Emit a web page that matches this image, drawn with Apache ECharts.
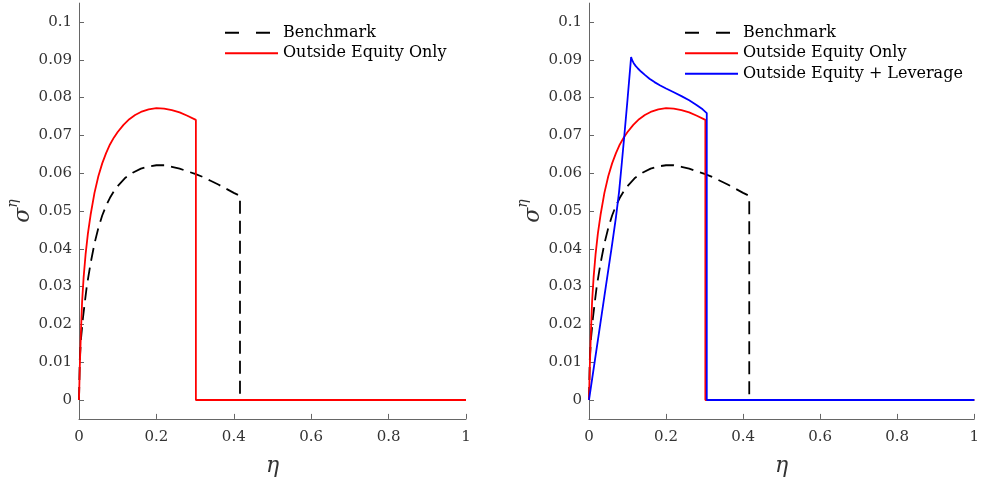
<!DOCTYPE html>
<html>
<head>
<meta charset="utf-8">
<script src="https://cdn.jsdelivr.net/npm/echarts@6/dist/echarts.min.js"></script>
<style>html,body{margin:0;padding:0;background:#fff;}#c{width:982px;height:483px;}</style>
</head>
<body>
<div id="c"></div>
<script>
// Benchmark (black dashed)
var benchEta   = [0, 0.002, 0.005, 0.010, 0.015, 0.020, 0.030, 0.040, 0.050, 0.060, 0.070, 0.080, 0.090, 0.100, 0.120, 0.140, 0.160, 0.180, 0.200, 0.220, 0.240, 0.260, 0.280, 0.300, 0.320, 0.340, 0.360, 0.380, 0.400, 0.416, 0.416, 1];
var benchSigma = [0, 0.0105, 0.0160, 0.0215, 0.0258, 0.0300, 0.0362, 0.0414, 0.0455, 0.0488, 0.0514, 0.0535, 0.0552, 0.0566, 0.0588, 0.0602, 0.0612, 0.0618, 0.0621, 0.0621, 0.0617, 0.0612, 0.0605, 0.0598, 0.0590, 0.0580, 0.0570, 0.0559, 0.0548, 0.0540, 0, 0];
// Outside Equity Only (red)
var redEta   = [0, 0.002, 0.005, 0.008, 0.012, 0.017, 0.023, 0.030, 0.040, 0.050, 0.060, 0.070, 0.080, 0.090, 0.100, 0.115, 0.130, 0.145, 0.160, 0.180, 0.200, 0.220, 0.240, 0.260, 0.280, 0.302, 0.302, 1];
var redSigma = [0, 0.0085, 0.0180, 0.0260, 0.0325, 0.0385, 0.0440, 0.0490, 0.0548, 0.0592, 0.0626, 0.0653, 0.0676, 0.0694, 0.0709, 0.0728, 0.0743, 0.0754, 0.0762, 0.0769, 0.0772, 0.0771, 0.0767, 0.0761, 0.0752, 0.0741, 0, 0];
// Outside Equity + Leverage (blue)
var blueEta   = [0, 0.020, 0.040, 0.060, 0.070, 0.078, 0.085, 0.0922, 0.100, 0.1093, 0.112, 0.116, 0.121, 0.127, 0.135, 0.145, 0.157, 0.170, 0.185, 0.200, 0.220, 0.240, 0.260, 0.280, 0.295, 0.3057, 0.3057, 1];
var blueSigma = [0, 0.0137, 0.0275, 0.0412, 0.0484, 0.0550, 0.0625, 0.0705, 0.0795, 0.0907, 0.0899, 0.0891, 0.0884, 0.0877, 0.0869, 0.0860, 0.0850, 0.0841, 0.0832, 0.0824, 0.0814, 0.0804, 0.0793, 0.0780, 0.0769, 0.0759, 0, 0];

var yTicks = [0, 0.01, 0.02, 0.03, 0.04, 0.05, 0.06, 0.07, 0.08, 0.09, 0.1];
var yTickLabels = ['0', '0.01', '0.02', '0.03', '0.04', '0.05', '0.06', '0.07', '0.08', '0.09', '0.1'];
var xTickLabels = ['0', '0.2', '0.4', '0.6', '0.8', '1'];

var nameBench = 'Benchmark';
var nameRed = 'Outside Equity Only';
var nameBlue = 'Outside Equity + Leverage';

function pairs(xs, ys) { return xs.map(function (x, i) { return [x, ys[i]]; }); }

var FONT = 'DejaVu Serif';
var AXIS_COLOR = '#666';
var TEXT_COLOR = '#333';

function makeX(idx) {
  return {
    type: 'value', gridIndex: idx, min: 0, max: 1, interval: 0.2,
    axisLine: { onZero: false, lineStyle: { color: AXIS_COLOR, width: 1 } },
    axisTick: { inside: true, length: 5, lineStyle: { color: AXIS_COLOR } },
    splitLine: { show: false },
    axisLabel: {
      color: TEXT_COLOR, fontFamily: FONT, fontSize: 15, margin: 11,
      formatter: function (v) { return xTickLabels[Math.round(v / 0.2)]; }
    },
    name: 'η', nameLocation: 'middle', nameGap: 36,
    nameTextStyle: { fontFamily: FONT, fontStyle: 'italic', fontSize: 22, color: TEXT_COLOR }
  };
}
function makeY(idx) {
  return {
    type: 'value', gridIndex: idx, min: -0.005, max: 0.105,
    axisLine: { show: true, onZero: false, lineStyle: { color: AXIS_COLOR, width: 1 } },
    axisTick: { show: true, inside: true, length: 5, customValues: yTicks, lineStyle: { color: AXIS_COLOR } },
    splitLine: { show: false },
    axisLabel: {
      color: TEXT_COLOR, fontFamily: FONT, fontSize: 15, margin: 7,
      customValues: yTicks,
      formatter: function (v) { return yTickLabels[Math.round(v / 0.01)]; }
    },
    name: '{s|σ}{e|η}', nameLocation: 'middle', nameGap: 44, nameRotate: 90,
    nameTextStyle: {
      color: TEXT_COLOR,
      rich: {
        s: { fontFamily: FONT, fontStyle: 'italic', fontSize: 22, color: TEXT_COLOR, lineHeight: 28, verticalAlign: 'bottom' },
        e: { fontFamily: FONT, fontStyle: 'italic', fontSize: 14, color: TEXT_COLOR, lineHeight: 28, verticalAlign: 'top' }
      }
    }
  };
}
function line(name, xs, ys, color, dashed, idx) {
  return {
    name: name, type: 'line', xAxisIndex: idx, yAxisIndex: idx,
    data: pairs(xs, ys), symbol: 'none', smooth: false, animation: false,
    lineStyle: { color: color, width: 1.8, type: dashed ? [13, 7] : 'solid' },
    itemStyle: { color: color }
  };
}
function legend(left, names) {
  return {
    orient: 'vertical', left: left, top: 22.5, itemWidth: 53, itemHeight: 14, itemGap: 0,
    selectedMode: false, padding: 0,
    itemStyle: { opacity: 0 },
    textStyle: { fontFamily: FONT, fontSize: 16, color: '#000', lineHeight: 20.5 },
    data: names.map(function (n) {
      if (n === nameBench) return { name: n, itemStyle: { opacity: 0 }, lineStyle: { type: [14, 17] } };
      return { name: n, itemStyle: { opacity: 0 } };
    })
  };
}

var chart = echarts.init(document.getElementById('c'), null, { renderer: 'canvas' });
chart.setOption({
  animation: false,
  backgroundColor: '#fff',
  grid: [
    { left: 79, width: 387, top: 3.1, bottom: 64.1 },
    { left: 589, width: 387, top: 3.1, bottom: 64.1 }
  ],
  xAxis: [makeX(0), makeX(1)],
  yAxis: [makeY(0), makeY(1)],
  legend: [
    legend(224, [nameBench, nameRed]),
    legend(684, [nameBench, nameRed, nameBlue])
  ],
  series: [
    line(nameBench, benchEta, benchSigma, '#000000', true, 0),
    line(nameRed, redEta, redSigma, '#ff0000', false, 0),
    line(nameBench, benchEta, benchSigma, '#000000', true, 1),
    line(nameRed, redEta, redSigma, '#ff0000', false, 1),
    line(nameBlue, blueEta, blueSigma, '#0000ff', false, 1)
  ]
});
</script>
</body>
</html>
